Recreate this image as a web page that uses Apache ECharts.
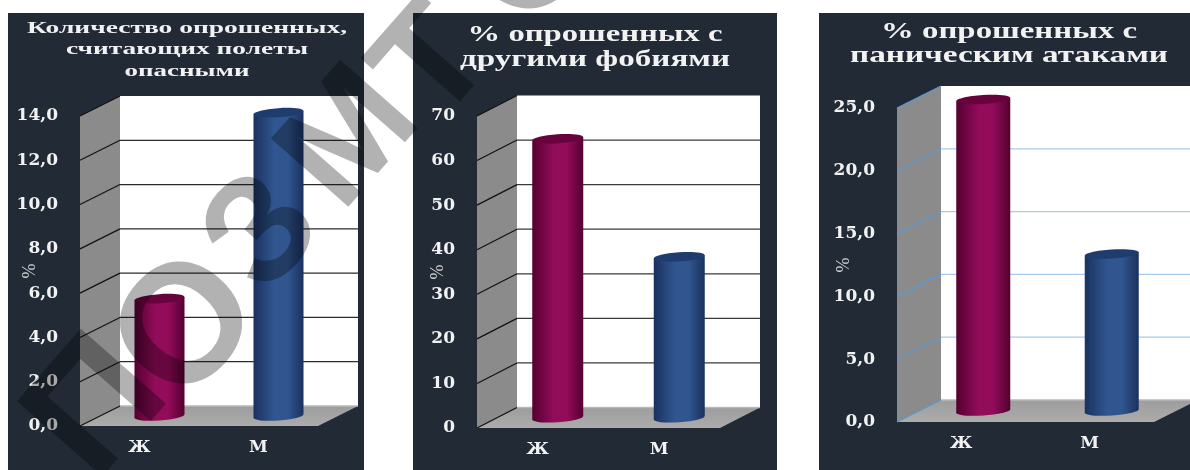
<!DOCTYPE html>
<html>
<head>
<meta charset="utf-8">
<style>html,body{margin:0;padding:0;background:#fff}#chart{width:1190px;height:470px}</style>
<script src="https://cdn.jsdelivr.net/npm/echarts@6/dist/echarts.min.js"></script>
</head>
<body>
<div id="chart"></div>
<script>
// Survey results by sex, one column-cylinder panel per question
const categories = ['Ж', 'М'];
const dangerShare = [5.3, 13.7];
const phobiaShare = [62.6, 36.1];
const panicShare = [24.8, 12.5];
const dangerTicks = [0, 2, 4, 6, 8, 10, 12, 14];
const phobiaTicks = [0, 10, 20, 30, 40, 50, 60, 70];
const panicTicks = [0, 5, 10, 15, 20, 25];
const dangerTitle = ['Количество опрошенных,', 'считающих полеты', 'опасными'];
const phobiaTitle = ['% опрошенных с', 'другими фобиями'];
const panicTitle = ['% опрошенных с', 'паническим атаками'];

const SERIF = '"DejaVu Serif", serif';
const TITLE_SERIF = '"Liberation Serif", serif';
const BAR_COLORS = [
  { edge: '#540030', mid: '#920c5a', cap: '#67023c' },
  { edge: '#1a3160', mid: '#31568f', cap: '#203b6e' }
];

const panels = [
  { box: [8, 13, 356, 457], grid: [80, 116, 238, 310], depth: [40, -20], barW: 50, values: dangerShare, ticks: dangerTicks, digits: 1,
    title: dangerTitle, titleY: [29, 50, 72], titleCx: 187, titleW: [320, 242, 125], titleFont: 17,
    wallEdge: '#111', backLine: '#2b2b2b', nameGap: 41 },
  { box: [413, 13, 364, 457], grid: [477, 116, 243, 312], depth: [40, -20.5], barW: 51, values: phobiaShare, ticks: phobiaTicks, digits: 0,
    title: phobiaTitle, titleY: [35, 60], titleCx: 595, titleW: [255, 270], titleFont: 23,
    wallEdge: '#111', backLine: '#3a3a3a', nameGap: 30 },
  { box: [819, 13, 371, 457], grid: [897, 108, 257, 314], depth: [44, -22], barW: 54, values: panicShare, ticks: panicTicks, digits: 1,
    title: panicTitle, titleY: [32, 56], titleCx: 1009, titleW: [256, 318], titleFont: 23,
    wallEdge: '#5b9bd5', backLine: '#a6cbec', nameGap: 44 }
];

// Side wall and floor of the box, sized from the grid rectangle
function renderShell(panel) {
  return function (params, api) {
    const r = params.coordSys;
    const [dx, dy] = panel.depth;
    const bottom = r.y + r.height;
    return {
      type: 'group',
      children: [
        { type: 'polygon', shape: { points: [[r.x, r.y], [r.x + dx, r.y + dy], [r.x + dx, bottom + dy], [r.x, bottom]] },
          style: { fill: '#8b8b8b' } },
        { type: 'polygon', shape: { points: [[r.x, bottom], [r.x + dx, bottom + dy], [r.x + r.width + dx, bottom + dy], [r.x + r.width, bottom]] },
          style: { fill: { type: 'linear', x: 0, y: 0, x2: 0, y2: 1, colorStops: [{ offset: 0, color: '#9d9d9d' }, { offset: 1, color: '#acacac' }] } } },
        { type: 'rect', shape: { x: r.x + dx, y: r.y + dy, width: r.width, height: r.height }, style: { fill: '#fff' } }
      ]
    };
  };
}

// One gridline per tick: along the back wall, then down the side wall
function renderTick(panel) {
  return function (params, api) {
    const r = params.coordSys;
    const [dx, dy] = panel.depth;
    const value = api.value(1);
    const y = api.coord([0, value])[1];
    const isEnd = value === panel.ticks[panel.ticks.length - 1];
    const children = [
      { type: 'line', shape: { x1: r.x, y1: y, x2: r.x + dx, y2: y + dy }, style: { stroke: panel.wallEdge, lineWidth: 1.2 } }
    ];
    if (!isEnd) {
      children.push({ type: 'line', shape: { x1: r.x + dx, y1: y + dy, x2: r.x + r.width + dx, y2: y + dy },
        style: { stroke: value === 0 ? '#b9b9b9' : panel.backLine, lineWidth: 1.3 } });
    }
    return { type: 'group', children };
  };
}

// Tilted cylinder standing at mid depth of the box
function renderCylinder(panel) {
  return function (params, api) {
    const [dx, dy] = panel.depth;
    const i = api.value(0);
    const top = api.coord([i, api.value(1)]);
    const base = api.coord([i, 0]);
    const cx = top[0] + dx / 2;
    const yTop = top[1] + dy / 2;
    const yBase = base[1] + dy / 2;
    const hw = panel.barW / 2;
    const tilt = 1.7;
    const ry = 4.5;
    const rot = Math.atan2(tilt * 2, panel.barW);
    const c = BAR_COLORS[i];
    const bodyFill = { type: 'linear', x: 0, y: 0, x2: 1, y2: 0, colorStops: [
      { offset: 0, color: c.edge }, { offset: 0.42, color: c.mid },
      { offset: 0.68, color: c.mid }, { offset: 1, color: c.edge }] };
    return {
      type: 'group',
      children: [
        { type: 'ellipse', shape: { cx, cy: yBase, rx: hw, ry }, rotation: rot, originX: cx, originY: yBase, style: { fill: bodyFill } },
        { type: 'polygon', shape: { points: [[cx - hw, yTop + tilt], [cx + hw, yTop - tilt], [cx + hw, yBase - tilt], [cx - hw, yBase + tilt]] }, style: { fill: bodyFill } },
        { type: 'ellipse', shape: { cx, cy: yTop, rx: hw, ry }, rotation: rot, originX: cx, originY: yTop, style: { fill: c.cap } }
      ]
    };
  };
}

// Horizontal stretch that brings a title line to its set width
const ruler = document.createElement('canvas').getContext('2d');
function stretchFor(text, font, width) {
  ruler.font = font;
  return width / ruler.measureText(text).width;
}

const grids = [], xAxes = [], yAxes = [], series = [], graphics = [];

panels.forEach((p, k) => {
  const t = p.ticks;
  graphics.push({ type: 'rect', shape: { x: p.box[0], y: p.box[1], width: p.box[2], height: p.box[3] }, style: { fill: '#222a35' }, z: -10, silent: true });
  p.title.forEach((line, n) => {
    const font = `bold ${p.titleFont}px ${TITLE_SERIF}`;
    graphics.push({ type: 'text', x: p.titleCx, y: p.titleY[n], scaleX: stretchFor(line, font, p.titleW[n]), silent: true, z: 5,
      style: { text: line, align: 'center', verticalAlign: 'middle', fill: '#f2f2f2', font } });
  });
  grids.push({ left: p.grid[0], top: p.grid[1], width: p.grid[2], height: p.grid[3] });
  xAxes.push({ type: 'category', gridIndex: k, data: categories, axisLine: { show: false }, axisTick: { show: false },
    axisLabel: { color: '#f2f2f2', fontFamily: SERIF, fontWeight: 'bold', fontSize: 17, margin: 13 } });
  yAxes.push({ type: 'value', gridIndex: k, min: t[0], max: t[t.length - 1], interval: t[1] - t[0],
    axisLine: { show: false }, axisTick: { show: false }, splitLine: { show: false },
    axisLabel: { color: '#f2f2f2', fontFamily: SERIF, fontWeight: 'bold', fontSize: 17, margin: 22, padding: [5, 0, 0, 0],
      formatter: v => v.toFixed(p.digits).replace('.', ',') },
    name: '%', nameLocation: 'middle', nameGap: p.nameGap, nameRotate: 90, nameMoveOverlap: false,
    nameTextStyle: { color: '#d9d9d9', fontFamily: TITLE_SERIF, fontSize: 18 } });
  const common = { type: 'custom', xAxisIndex: k, yAxisIndex: k, clip: false, silent: true, animation: false };
  series.push({ ...common, name: 'shell' + k, z: 1, renderItem: renderShell(p), data: [[0, 0]] });
  series.push({ ...common, name: 'ticks' + k, z: 2, renderItem: renderTick(p), data: t.map(v => [0, v]) });
  series.push({ ...common, name: 'share' + k, z: 3, renderItem: renderCylinder(p), data: p.values.map((v, i) => [i, v]) });
});

// Diagonal stamp letters laid over the whole sheet
[['П', 100, 410, 165], ['О', 190, 330, 168], ['З', 265, 235, 150], ['М', 352, 140, 150], ['Т', 436, 66, 150], ['О', 535, -45, 168]].forEach(([text, x, y, size]) => {
  graphics.push({ type: 'text', x, y, rotation: 0.85, silent: true, z: 50,
    style: { text, align: 'center', verticalAlign: 'middle', fill: 'rgba(0,0,0,0.3)', font: `bold ${size}px "Liberation Sans", sans-serif` } });
});

const chart = echarts.init(document.getElementById('chart'), null, { renderer: 'canvas' });
chart.setOption({
  animation: false,
  backgroundColor: '#ffffff',
  grid: grids, xAxis: xAxes, yAxis: yAxes, series,
  graphic: { elements: graphics }
});
</script>
</body>
</html>
